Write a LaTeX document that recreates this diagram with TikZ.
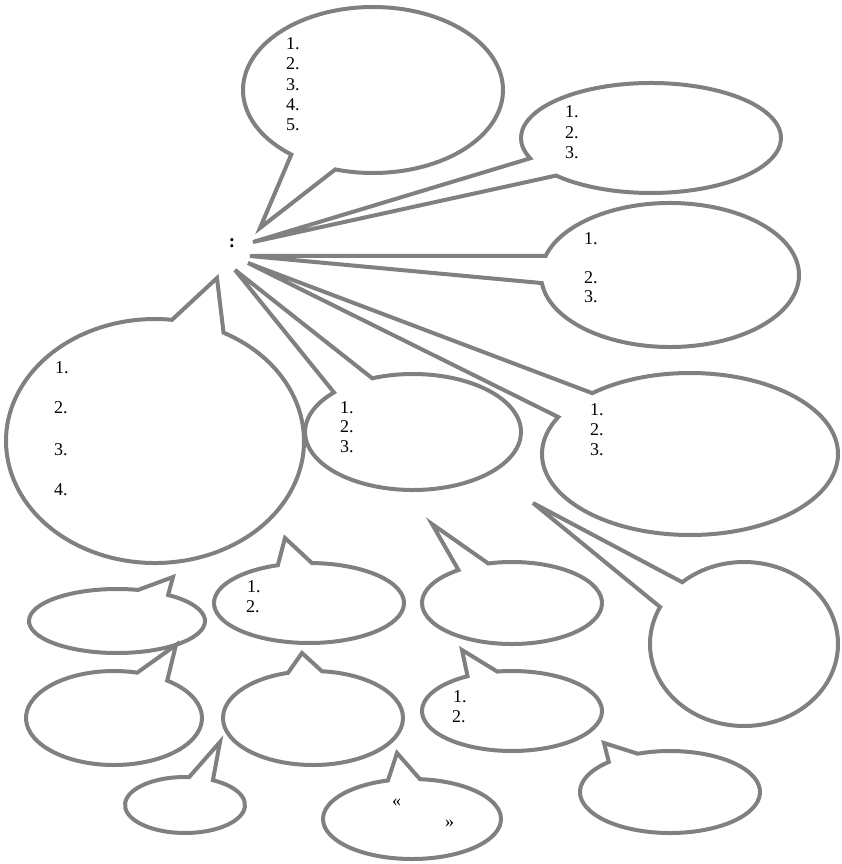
\documentclass[tikz,border=0pt]{standalone}
\usepackage{fontspec}
\setmainfont{Liberation Serif}
\tikzset{
  bub/.style={draw=black!50, line width=4pt, line join=miter, miter limit=6},
  lbl/.style={anchor=west, inner sep=0pt, font=\fontsize{18}{20}\selectfont}
}
\newcommand\bubble[9]{%
  \pgfmathsetmacro\aA{atan2((#6-(#2))/(#4),(#5-(#1))/(#3))}%
  \pgfmathsetmacro\aB{atan2((#8-(#2))/(#4),(#7-(#1))/(#3))}%
  \pgfmathsetmacro\gap{mod(\aB-\aA+720,360)}%
  \ifdim\gap pt>180pt
    \let\tmpa\aA \let\aA\aB \let\aB\tmpa
    \pgfmathsetmacro\gap{360-\gap}%
  \fi
  \pgfmathsetmacro\aS{\aA+\gap}%
  \pgfmathsetmacro\aE{\aA+360}%
  \pgfmathsetmacro\xs{#1+#3*cos(\aS)}%
  \pgfmathsetmacro\ys{#2+#4*sin(\aS)}%
  \draw[bub] (\xs,\ys) arc[start angle=\aS, end angle=\aE, x radius=#3, y radius=#4] -- #9 -- cycle;
}
\begin{document}
\begin{tikzpicture}[x=1pt,y=1pt,yscale=-1]
\useasboundingbox (0,0) rectangle (842,864);
% top
\bubble{373}{90}{130}{83}{292}{154}{335}{170}{(260,228)}
\bubble{651}{138}{130}{55}{532}{158}{555}{176}{(253,242)}
\bubble{670}{275}{129}{72}{547}{256}{543}{283}{(250,256)}
\bubble{155}{441}{149}{122}{172}{320}{224}{332}{(217,278)}
\bubble{413}{432}{108}{58}{335}{393}{372}{378}{(235,270)}
\bubble{690}{454}{148}{81}{558}{417}{592}{393}{(248,263)}
\bubble{744}{644}{94}{82}{660}{607}{682}{582}{(533,503)}
% lower rows
\bubble{117}{621}{88}{32}{138}{590}{168}{595}{(173,577)}
\bubble{309}{603}{95}{40}{276}{563}{312}{562}{(285,538)}
\bubble{512}{603}{90}{41}{460}{571}{488}{563}{(432,524)}
\bubble{114}{718}{88}{47}{137}{673}{168}{680}{(176,645)}
\bubble{313}{718}{90}{47}{288}{673}{322}{671}{(302,653)}
\bubble{512}{711}{90}{40}{466}{675}{497}{671}{(462,650)}
\bubble{185}{805}{60}{28}{189}{778}{212}{781}{(220,742)}
\bubble{412}{819}{89}{40}{387}{779}{420}{779}{(397,753)}
\bubble{670}{792}{90}{41}{611}{763}{638}{754}{(604,743)}
% colon
\node[inner sep=0pt, font=\fontsize{19}{20}\selectfont\bfseries] (colon) at (232,243) {:};
% labels bubble 1
\node[lbl] (a1) at (286,44) {1.};
\node[lbl] (a2) at (286,64) {2.};
\node[lbl] (a3) at (286,85) {3.};
\node[lbl] (a4) at (286,105) {4.};
\node[lbl] (a5) at (286,125) {5.};
% bubble 2
\node[lbl] (b1) at (565,112) {1.};
\node[lbl] (b2) at (565,133) {2.};
\node[lbl] (b3) at (565,153) {3.};
% bubble 3
\node[lbl] (c1) at (584,239) {1.};
\node[lbl] (c2) at (584,278) {2.};
\node[lbl] (c3) at (584,297) {3.};
% bubble 4
\node[lbl] (d1) at (55,368) {1.};
\node[lbl] (d2) at (54,408) {2.};
\node[lbl] (d3) at (54,450) {3.};
\node[lbl] (d4) at (54,490) {4.};
% bubble 5
\node[lbl] (e1) at (340,408) {1.};
\node[lbl] (e2) at (340,427) {2.};
\node[lbl] (e3) at (340,447) {3.};
% bubble 6
\node[lbl] (f1) at (590,410) {1.};
\node[lbl] (f2) at (590,430) {2.};
\node[lbl] (f3) at (590,450) {3.};
% bubble 9
\node[lbl] (g1) at (247,587) {1.};
\node[lbl] (g2) at (246,607) {2.};
% bubble 15
\node[lbl] (h1) at (453,697) {1.};
\node[lbl] (h2) at (452,717) {2.};
% bubble 13
\node[lbl] (q1) at (392,803) {«};
\node[lbl] (q2) at (445,824) {»};
\end{tikzpicture}
\end{document}
